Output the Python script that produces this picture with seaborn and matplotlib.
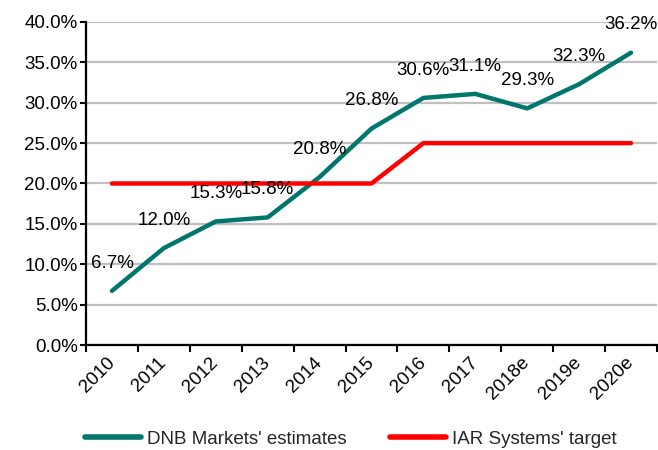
import matplotlib
matplotlib.use("Agg")
import matplotlib.pyplot as plt
import seaborn as sns
import pandas as pd
import numpy as np
from matplotlib.lines import Line2D
from matplotlib.ticker import FixedLocator, PercentFormatter

years = ["2010", "2011", "2012", "2013", "2014", "2015", "2016", "2017", "2018e", "2019e", "2020e"]
dnb_estimates = [6.7, 12.0, 15.3, 15.8, 20.8, 26.8, 30.6, 31.1, 29.3, 32.3, 36.2]
iar_target = [20.0, 20.0, 20.0, 20.0, 20.0, 20.0, 25.0, 25.0, 25.0, 25.0, 25.0]
series_names = ["DNB Markets' estimates", "IAR Systems' target"]
colors = ["#00766c", "#ff0000"]

sns.set_theme(style="white")
plt.rcParams['font.family'] = ['Liberation Sans', 'DejaVu Sans']

FS = 13.5

idx = np.arange(len(years))
df = pd.DataFrame({
    "idx": np.concatenate([idx, idx]),
    "value": dnb_estimates + iar_target,
    "series": [series_names[0]] * len(years) + [series_names[1]] * len(years),
})

fig = plt.figure(figsize=(6.58, 4.5), dpi=100)
ax = fig.add_axes([86 / 658, 1 - 345 / 450, (657 - 86) / 658, (345 - 22) / 450])

sns.lineplot(data=df, x="idx", y="value", hue="series", hue_order=series_names,
             palette=colors, linewidth=3.2, legend=False, ax=ax, zorder=3)

for x, v in zip(idx, dnb_estimates):
    ax.annotate(f"{v:.1f}%", (x, v), xytext=(0, 20), textcoords="offset points",
                ha="center", va="center", fontsize=FS, color="black", zorder=5)

ax.set_xlim(-0.5, len(years) - 0.5)
ax.set_ylim(0, 40)
ax.set_yticks(np.arange(0, 41, 5))
ax.yaxis.set_major_formatter(PercentFormatter(decimals=1))
ax.set_xticks(idx)
ax.set_xticklabels(years)
ax.xaxis.set_minor_locator(FixedLocator(np.arange(-0.5, len(years), 1.0)))
ax.tick_params(axis="x", which="major", length=0, pad=11, labelsize=FS, colors="black")
ax.tick_params(axis="x", which="minor", bottom=True, length=5, width=1.5, color="black", direction="out")
ax.tick_params(axis="y", which="major", left=True, length=4, width=1.5, color="black", labelsize=FS, labelcolor="black", pad=2)
for lab in ax.get_xticklabels():
    lab.set_rotation(45)
    lab.set_ha("right")
    lab.set_va("center")
    lab.set_rotation_mode("anchor")

ax.set_xlabel("")
ax.set_ylabel("")
ax.grid(axis="y", color="#c0c0c0", linewidth=1.6, zorder=0)
ax.set_axisbelow(True)
for s in ["top", "right"]:
    ax.spines[s].set_visible(False)
for s in ["left", "bottom"]:
    ax.spines[s].set_color("black")
    ax.spines[s].set_linewidth(1.6)
    ax.spines[s].set_zorder(4)

handles = [Line2D([0], [0], color=c, lw=4) for c in colors]
fig.legend(handles, series_names, loc="center left", bbox_to_anchor=(85 / 658, 1 - 439 / 450),
           ncol=2, frameon=False, fontsize=FS, handlelength=3.0, handletextpad=0.3,
           columnspacing=2.3, borderpad=0, borderaxespad=0)

fig.savefig("out.png", dpi=100)
